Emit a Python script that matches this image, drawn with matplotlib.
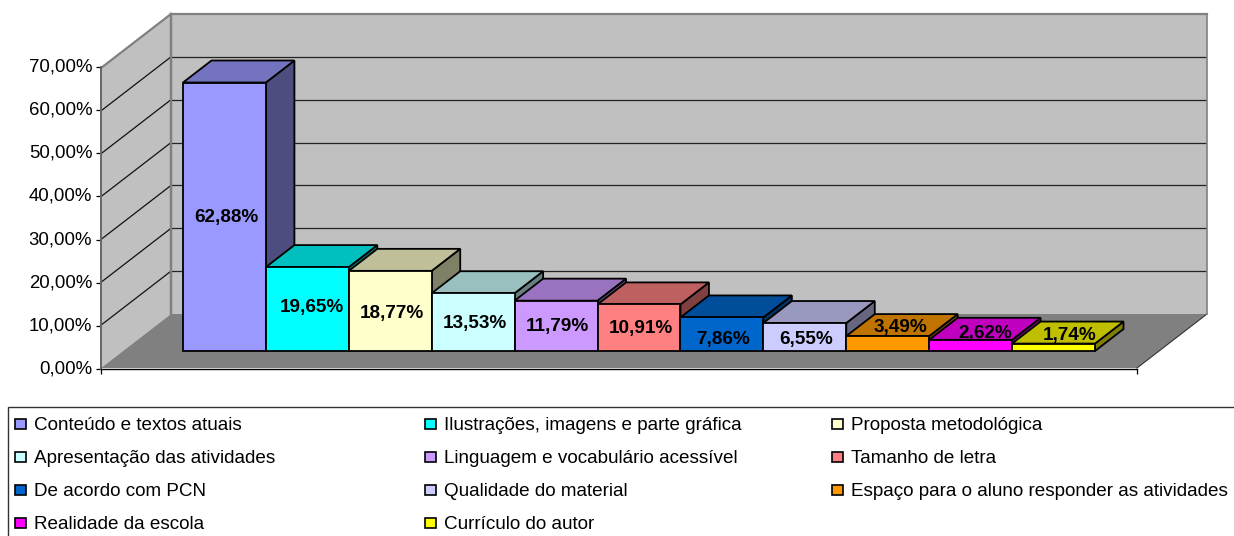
import matplotlib
matplotlib.use("Agg")
from matplotlib import pyplot as plt
from matplotlib.patches import Polygon, Rectangle
from matplotlib.ticker import FuncFormatter
from matplotlib.transforms import ScaledTranslation

plt.rcParams["font.family"] = ["Liberation Sans", "DejaVu Sans"]

W, H = 1234, 536

names = ["Conteúdo e textos atuais", "Ilustrações, imagens e parte gráfica",
         "Proposta metodológica", "Apresentação das atividades",
         "Linguagem e vocabulário acessível", "Tamanho de letra",
         "De acordo com PCN", "Qualidade do material",
         "Espaço para o aluno responder as atividades",
         "Realidade da escola", "Currículo do autor"]
values = [62.88, 19.65, 18.77, 13.53, 11.79, 10.91, 7.86, 6.55, 3.49, 2.62, 1.74]
colors = ["#9999FF", "#00FFFF", "#FFFFCC", "#CCFFFF", "#CC99FF", "#FF8080",
          "#0066CC", "#CCCCFF", "#FF9900", "#FF00FF", "#FFFF00"]
y_ticks = [0, 10, 20, 30, 40, 50, 60, 70]

# hand moved labels in the original: bar index -> (categories, percent)
label_nudge = {1: (0.03, 0.5), 2: (0, -0.45), 6: (0, -0.9), 7: (0, -0.45),
               8: (0.13, 4.05), 9: (0.16, 3.1), 10: (0.17, 2.95)}


def px_axes(fig, left, right, top, bottom):
    ax = fig.add_axes([left / W, 1 - bottom / H, (right - left) / W, (bottom - top) / H])
    ax.patch.set_alpha(0)
    return ax


def shade(col, k):
    rgb = matplotlib.colors.to_rgb(col)
    return tuple(c * k for c in rgb)


fig = plt.figure(figsize=(W / 100, H / 100), dpi=100)

# back wall, side wall and floor
wall = px_axes(fig, 171, 1207, 14, 314)
wall.set_xlim(0, 1)
wall.set_ylim(0, 70)
wall.set_facecolor("#C0C0C0")
wall.patch.set_alpha(1)
wall.set_xticks([])
wall.set_yticks([])
for s in wall.spines.values():
    s.set_color("#808080")
    s.set_linewidth(1.6)
wall.spines["bottom"].set_visible(False)
wall.spines["right"].set_linewidth(1.2)

dx_wall = -70 / 1036
dv_wall = -54 / (300 / 70)
wall.add_patch(Polygon([(0, 0), (0, 70), (dx_wall, 70 + dv_wall), (dx_wall, dv_wall)],
                       fc="#C0C0C0", ec="none", clip_on=False, zorder=1))
wall.add_patch(Polygon([(0, 0), (1, 0), (1 + dx_wall, dv_wall), (dx_wall, dv_wall)],
                       fc="#808080", ec="none", clip_on=False, zorder=1))
wall.plot([dx_wall, 0], [70 + dv_wall, 70], color="#808080", lw=1.6, clip_on=False, zorder=2)
wall.plot([0, 0], [0, 70], color="#808080", lw=1.6, clip_on=False, zorder=2)
wall.plot([1, 1 + dx_wall], [0, dv_wall], color="#333333", lw=0.8, clip_on=False, zorder=2)
for t in y_ticks[:-1]:
    if t > 0:
        wall.plot([0, 1], [t, t], color="#222222", lw=0.9, zorder=2)
        wall.plot([dx_wall, 0], [t + dv_wall, t], color="#111111", lw=0.9, clip_on=False, zorder=2)

# front axis with the tick labels
front = px_axes(fig, 101, 1137, 67, 369)
front.set_xlim(0, 1)
front.set_ylim(0, 70)
front.set_yticks(y_ticks)
front.set_xticks([0, 1])
front.set_xticklabels([])
front.yaxis.set_major_formatter(FuncFormatter(lambda v, p: f"{v:.2f}%".replace(".", ",")))
front.tick_params(axis="both", length=3.8, width=0.9, color="black", pad=2.5, labelsize=13.4)
front.spines["top"].set_visible(False)
front.spines["right"].set_visible(False)
front.spines["left"].set_color("#666666")
front.spines["left"].set_linewidth(1.4)
front.spines["bottom"].set_linewidth(1.0)
up = ScaledTranslation(0, 2 / 100, fig.dpi_scale_trans)
for lab in front.get_yticklabels():
    lab.set_transform(lab.get_transform() + up)

# bars, each one with its top and side faces
scale = 4.27
bars = px_axes(fig, 183, 1095, 351 - 70 * scale, 351)
bars.set_xlim(0, len(values))
bars.set_ylim(0, 70)
bars.axis("off")
dc = 28.5 / (912 / 11)
dv = 22 / scale

for i, (v, col) in enumerate(zip(values, colors)):
    z = 3 + i * 0.1
    bars.add_patch(Polygon([(i + 1, 0), (i + 1 + dc, dv), (i + 1 + dc, v + dv), (i + 1, v)],
                           fc=shade(col, 0.5), ec="black", lw=1.3, clip_on=False, zorder=z))
    bars.add_patch(Polygon([(i, v), (i + dc, v + dv), (i + 1 + dc, v + dv), (i + 1, v)],
                           fc=shade(col, 0.75), ec="black", lw=1.3, clip_on=False, zorder=z))
    bars.bar(i + 0.5, v, width=1, color=col, edgecolor="black", linewidth=1.3,
             clip_on=False, zorder=z)

for i, v in enumerate(values):
    nx, ny = label_nudge.get(i, (0, 0))
    bars.text(i + 0.52 + nx, v / 2 - 0.24 + ny, f"{v:.2f}%".replace(".", ","), ha="center", va="center",
              fontsize=13.6, fontweight="bold", color="black", zorder=10)

# legend box runs past the right edge of the picture
fig.add_artist(Rectangle((8 / W, -0.05), 1.1, 1 - 407 / H + 0.05, transform=fig.transFigure,
                         fc="white", ec="#333333", lw=1.0))
col_x = [15, 425, 832]
row_y = [424, 457, 490, 523]
for i, (name, col) in enumerate(zip(names, colors)):
    x = col_x[i % 3]
    y = row_y[i // 3]
    fig.add_artist(Rectangle((x / W, 1 - (y + 5) / H), 11 / W, 10 / H, transform=fig.transFigure,
                             fc=col, ec="black", lw=1.2))
    fig.text((x + 19) / W, 1 - (y + 1.5) / H, name, fontsize=13.6, va="center", ha="left")

fig.savefig("out.png", dpi=100)
